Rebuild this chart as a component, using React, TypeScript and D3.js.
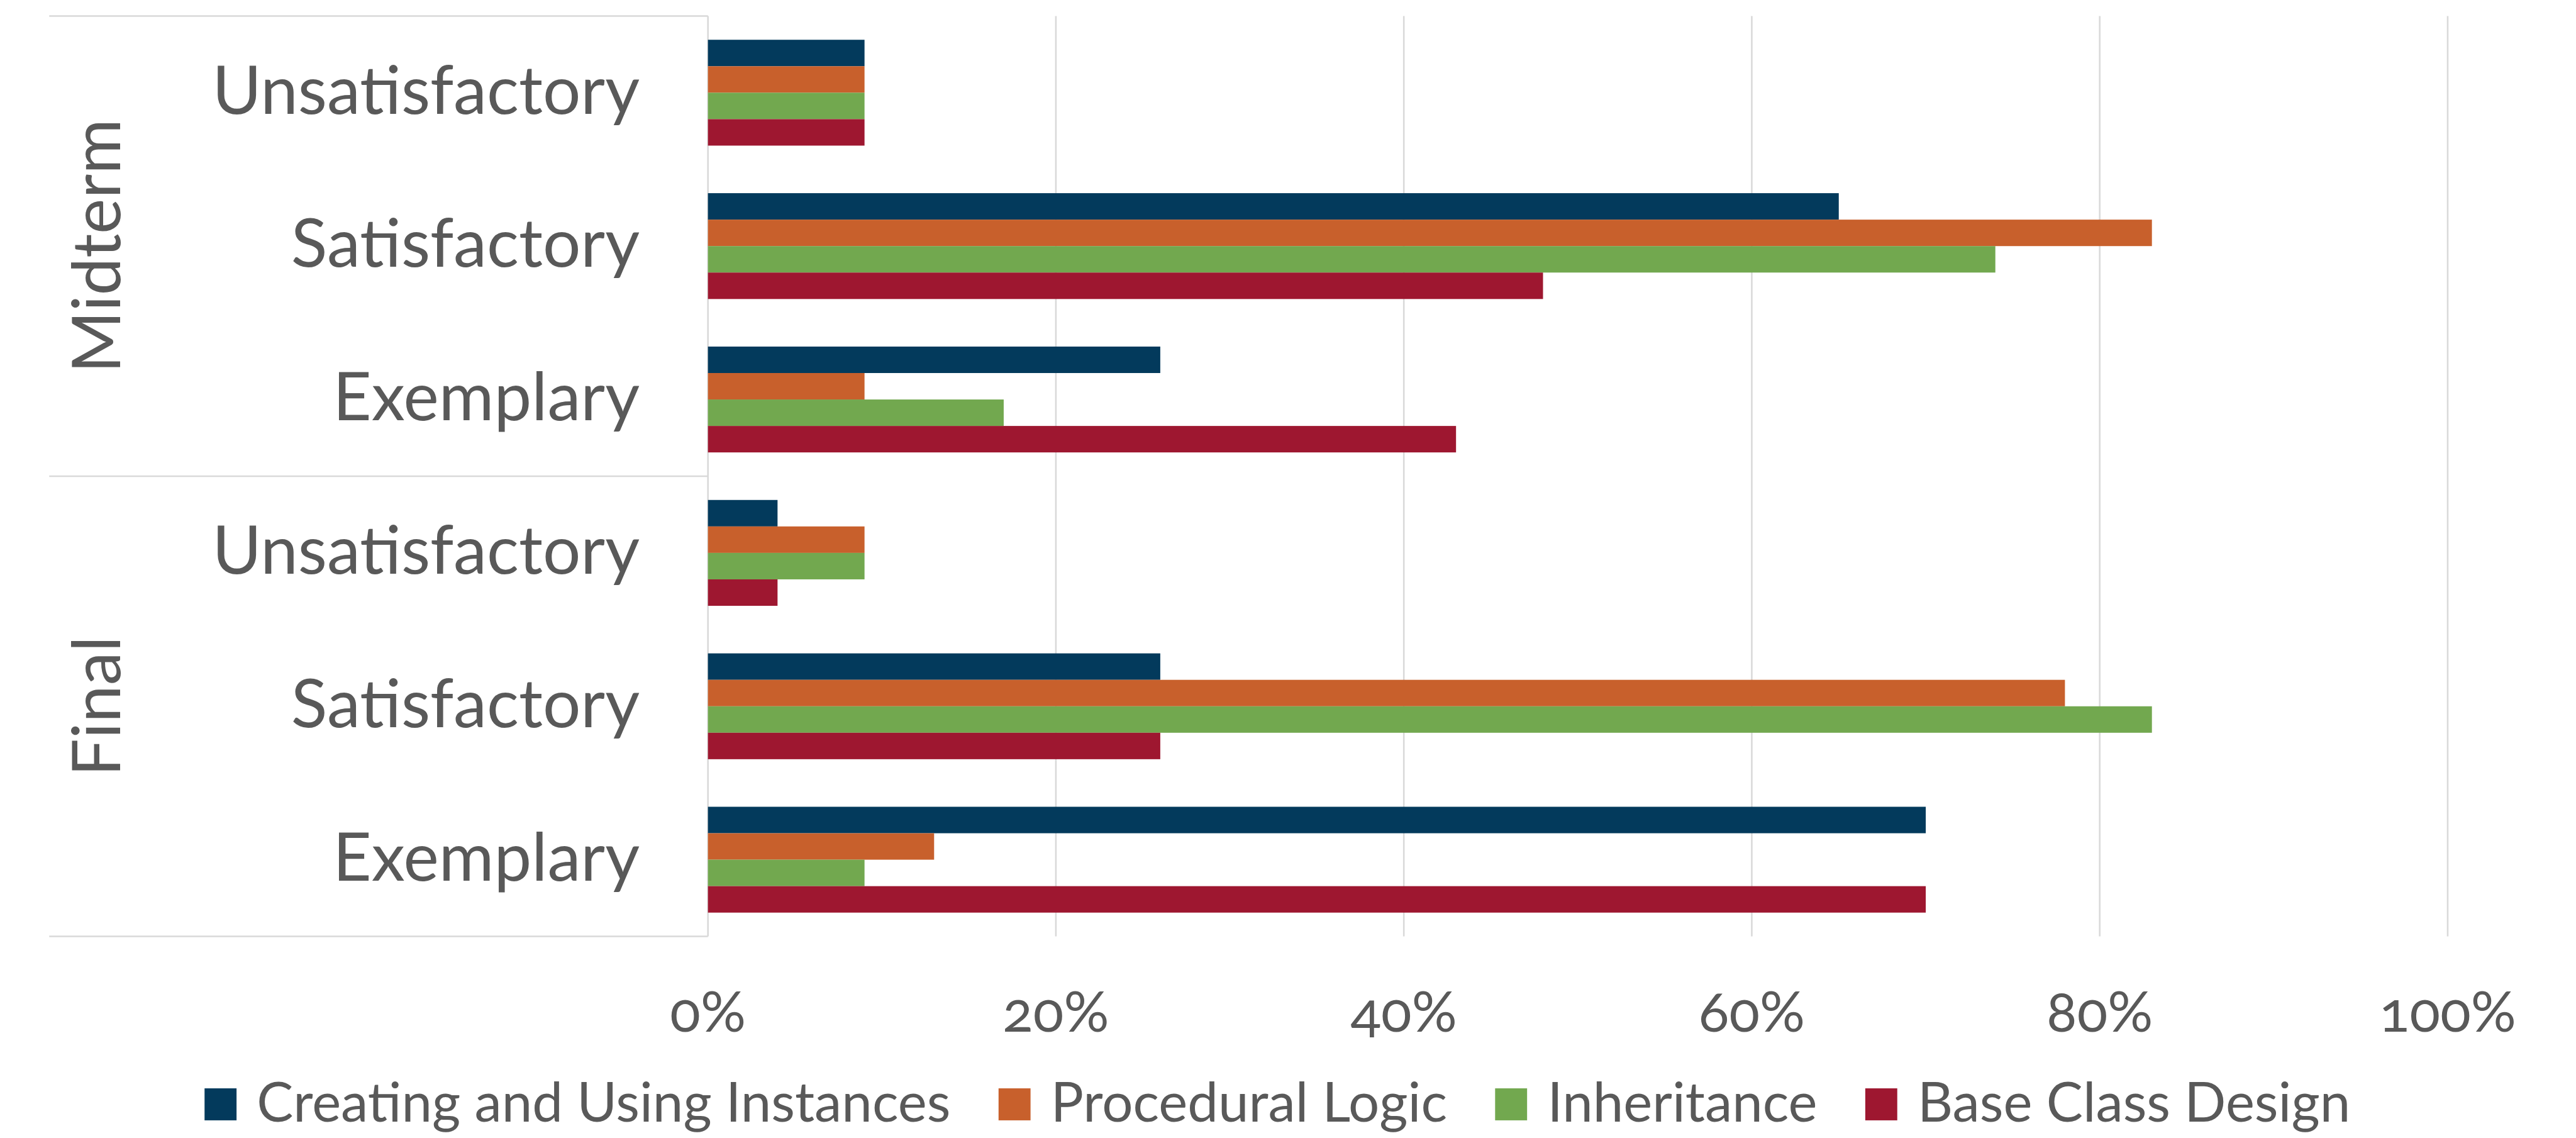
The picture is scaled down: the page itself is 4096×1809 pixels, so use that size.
import React, { useMemo } from "react";
import * as d3 from "d3";

// ---------- data ----------
const groups = ["Midterm", "Final"];
const categories = ["Unsatisfactory", "Satisfactory", "Exemplary"];
const seriesNames = [
  "Creating and Using Instances",
  "Procedural Logic",
  "Inheritance",
  "Base Class Design",
];
// rows: Midterm (Unsat, Sat, Exemp), Final (Unsat, Sat, Exemp)
const creatingValues = [9, 65, 26, 4, 26, 70];
const proceduralValues = [9, 83, 9, 9, 78, 13];
const inheritanceValues = [9, 74, 17, 9, 83, 9];
const baseClassValues = [9, 48, 43, 4, 26, 70];
const xTicks = [0, 20, 40, 60, 80, 100];
const seriesColors = ["#033A5C", "#C8602C", "#72A84F", "#9E1730"];

// ---------- layout (reference units, scaled by S) ----------
const S = 0.978;
const W = 4096;
const H = 1809;
const FONT = "Lato, 'Noto Sans', sans-serif";
const TEXT = "#595959";
const GRID = "#D9D9D9";

const plotLeft = 1151;
const plotRight = 3979.5;
const plotTop = 26;
const plotBottom = 1522;
const tableLeft = 80;

function measure(text: string, size: number) {
  const c = document.createElement("canvas");
  const ctx = c.getContext("2d");
  if (!ctx) return text.length * size * 0.5;
  ctx.font = `${size}px Lato`;
  return ctx.measureText(text).width;
}

export default function App() {
  const allValues = [creatingValues, proceduralValues, inheritanceValues, baseClassValues];
  const rows = d3.range(groups.length * categories.length);

  const x = d3.scaleLinear().domain([0, 100]).range([plotLeft, plotRight]);
  const y = d3
    .scaleBand<number>()
    .domain(rows)
    .range([plotTop, plotBottom])
    .paddingInner(0.31)
    .paddingOuter(0.155);
  const yInner = d3.scaleBand<string>().domain(seriesNames).range([0, y.bandwidth()]);

  const legendSize = 89;
  const legend = useMemo(() => {
    const sq = 52;
    const gap = 33;
    const spacing = 78;
    const widths = seriesNames.map((n) => measure(n, legendSize));
    const total =
      widths.reduce((a, b) => a + b, 0) + seriesNames.length * (sq + gap) + (seriesNames.length - 1) * spacing;
    let cx = 2077 - total / 2;
    return seriesNames.map((n, i) => {
      const item = { name: n, x: cx, w: widths[i] };
      cx += sq + gap + widths[i] + spacing;
      return item;
    });
  }, []);

  const groupBoundaries = d3.range(groups.length + 1).map((g) => plotTop + (g * (plotBottom - plotTop)) / groups.length);

  return (
    <svg
      width={W}
      height={H}
      style={{ position: "fixed", left: 0, top: 0, background: "#fff" }}
      fontFamily={FONT}
    >
      <rect width={W} height={H} fill="#fff" />
      <g transform={`scale(${S})`}>
        {/* gridlines */}
        {xTicks.map((t) => (
          <line key={t} x1={x(t)} x2={x(t)} y1={plotTop} y2={plotBottom} stroke={GRID} strokeWidth={2.6} />
        ))}
        {/* table lines on the left */}
        {groupBoundaries.map((gy, i) => (
          <line key={i} x1={tableLeft} x2={plotLeft} y1={gy} y2={gy} stroke={GRID} strokeWidth={2.6} />
        ))}

        {/* bars */}
        {rows.map((r) => (
          <g key={r} transform={`translate(0,${y(r)})`}>
            {seriesNames.map((s, si) => (
              <rect
                key={s}
                x={x(0)}
                y={yInner(s)}
                width={x(allValues[si][r]) - x(0)}
                height={yInner.bandwidth()}
                fill={seriesColors[si]}
              />
            ))}
          </g>
        ))}

        {/* category labels */}
        {rows.map((r) => (
          <text
            key={r}
            x={1040}
            y={(y(r) as number) + y.bandwidth() / 2 + 34}
            textAnchor="end"
            fontSize={109}
            fill={TEXT}
          >
            {categories[r % categories.length]}
          </text>
        ))}

        {/* group labels */}
        {groups.map((g, gi) => (
          <text
            key={g}
            transform={`translate(195,${(groupBoundaries[gi] + groupBoundaries[gi + 1]) / 2}) rotate(-90)`}
            textAnchor="middle"
            fontSize={109}
            fill={TEXT}
          >
            {g}
          </text>
        ))}

        {/* x tick labels */}
        {xTicks.map((t) => (
          <text
            key={t}
            x={x(t)}
            y={1677}
            textAnchor="middle"
            fontSize={92}
            fill={TEXT}
            style={{ fontVariantNumeric: "oldstyle-nums" }}
          >
            {`${t}%`}
          </text>
        ))}

        {/* legend */}
        {legend.map((l, i) => (
          <g key={l.name}>
            <rect x={l.x} y={1769} width={52} height={52} fill={seriesColors[i]} />
            <text x={l.x + 52 + 33} y={1822.7} fontSize={legendSize} fill={TEXT}>
              {l.name}
            </text>
          </g>
        ))}
      </g>
    </svg>
  );
}
